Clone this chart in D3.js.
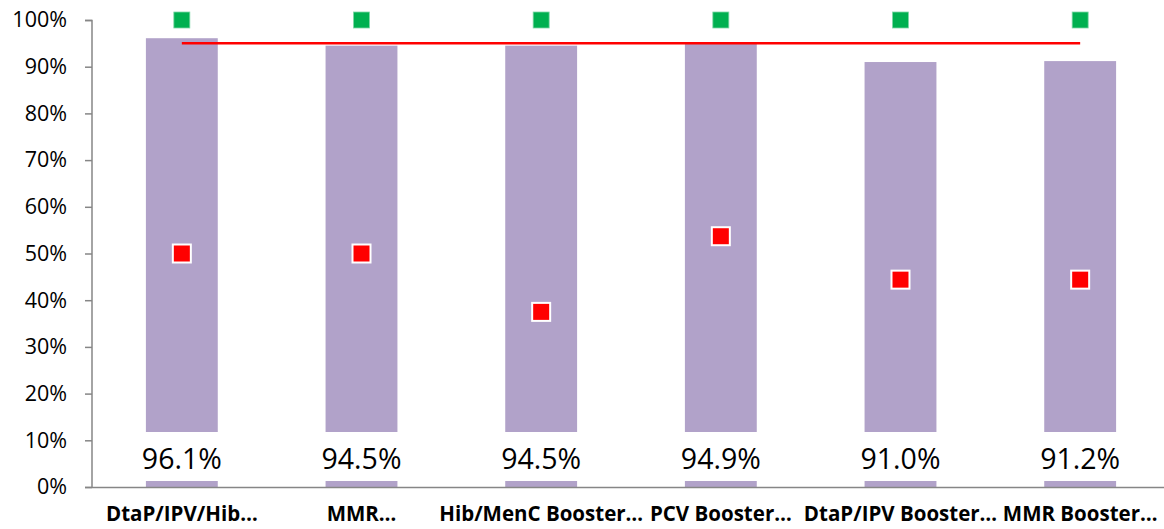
<!DOCTYPE html>
<html><head><meta charset="utf-8">
<script src="https://cdn.jsdelivr.net/npm/d3@7"></script>
<style>body{margin:0;background:#fff}</style>
</head><body>
<svg id="c" width="1164" height="529"></svg>
<script>
const categories = ["DtaP/IPV/Hib…","MMR…","Hib/MenC Booster…","PCV Booster…","DtaP/IPV Booster…","MMR Booster…"];
const coverage = [96.1, 94.5, 94.5, 94.9, 91.0, 91.2];
const lowest = [50.0, 50.0, 37.5, 53.7, 44.4, 44.4];
const highest = [100, 100, 100, 100, 100, 100];
const target = [95, 95, 95, 95, 95, 95];
const yTicks = [0,10,20,30,40,50,60,70,80,90,100];

const svg = d3.select("#c");
const x = d3.scaleBand().domain(categories).range([92, 1170]).paddingInner(0.6).paddingOuter(0.3);
const xc = d => x(d) + x.bandwidth()/2;
const y = d3.scaleLinear().domain([0,100]).range([487, 20]);

// bars
svg.selectAll("rect.bar").data(categories).enter().append("rect")
  .attr("x", d => x(d)).attr("width", x.bandwidth())
  .attr("y", (d,i) => y(coverage[i])).attr("height", (d,i) => y(0) - y(coverage[i]))
  .attr("fill", "#B1A2C9");

// y axis
const yAxis = d3.axisLeft(y).tickValues(yTicks).tickFormat(d => d + "%").tickSize(7).tickPadding(18);
const gy = svg.append("g").attr("transform", "translate(92,0)").call(yAxis);
gy.select(".domain").attr("stroke", "#868686").attr("stroke-width", 1.5).attr("d", "M-7,20.5H0V487");
gy.selectAll(".tick line").attr("stroke", "#868686").attr("stroke-width", 1.5);
gy.selectAll(".tick text").attr("font-family", "Open Sans, sans-serif").attr("font-size", 21.5).attr("fill", "#000");

// x axis line
svg.append("line").attr("x1", 85).attr("x2", 1164).attr("y1", 487.5).attr("y2", 487.5)
  .attr("stroke", "#868686").attr("stroke-width", 1.5);

// category labels
svg.selectAll("text.cat").data(categories).enter().append("text")
  .attr("x", d => xc(d)).attr("y", 521).attr("text-anchor", "middle")
  .attr("font-family", "Open Sans, sans-serif").attr("font-weight", "bold").attr("font-size", 20.5)
  .attr("fill", "#000").text(d => d);

// data labels with white boxes
const lab = svg.selectAll("g.lab").data(categories).enter().append("g");
lab.append("rect").attr("x", d => xc(d) - 48).attr("width", 96).attr("y", 432).attr("height", 49).attr("fill", "#fff");
lab.append("text").attr("x", d => xc(d)).attr("y", 469).attr("text-anchor", "middle")
  .attr("font-family", "Open Sans, sans-serif").attr("font-size", 28.5).attr("fill", "#000")
  .text((d,i) => coverage[i].toFixed(1) + "%");

// target line
const line = d3.line().x((d,i) => xc(categories[i])).y(d => y(d));
svg.append("path").datum(target).attr("d", line).attr("fill", "none").attr("stroke", "#FF0000").attr("stroke-width", 2.5);

// highest markers
svg.selectAll("rect.hi").data(categories).enter().append("rect")
  .attr("x", d => xc(d) - 8).attr("y", (d,i) => y(highest[i]) - 8).attr("width", 16).attr("height", 16)
  .attr("fill", "#00B050").attr("stroke", "#7FD7A7").attr("stroke-width", 0.8);

// lowest markers
svg.selectAll("rect.lo").data(categories).enter().append("rect")
  .attr("x", d => xc(d) - 9).attr("y", (d,i) => y(lowest[i]) - 9).attr("width", 18).attr("height", 18)
  .attr("fill", "#FF0000").attr("stroke", "#fff").attr("stroke-width", 2);
</script>
</body></html>
